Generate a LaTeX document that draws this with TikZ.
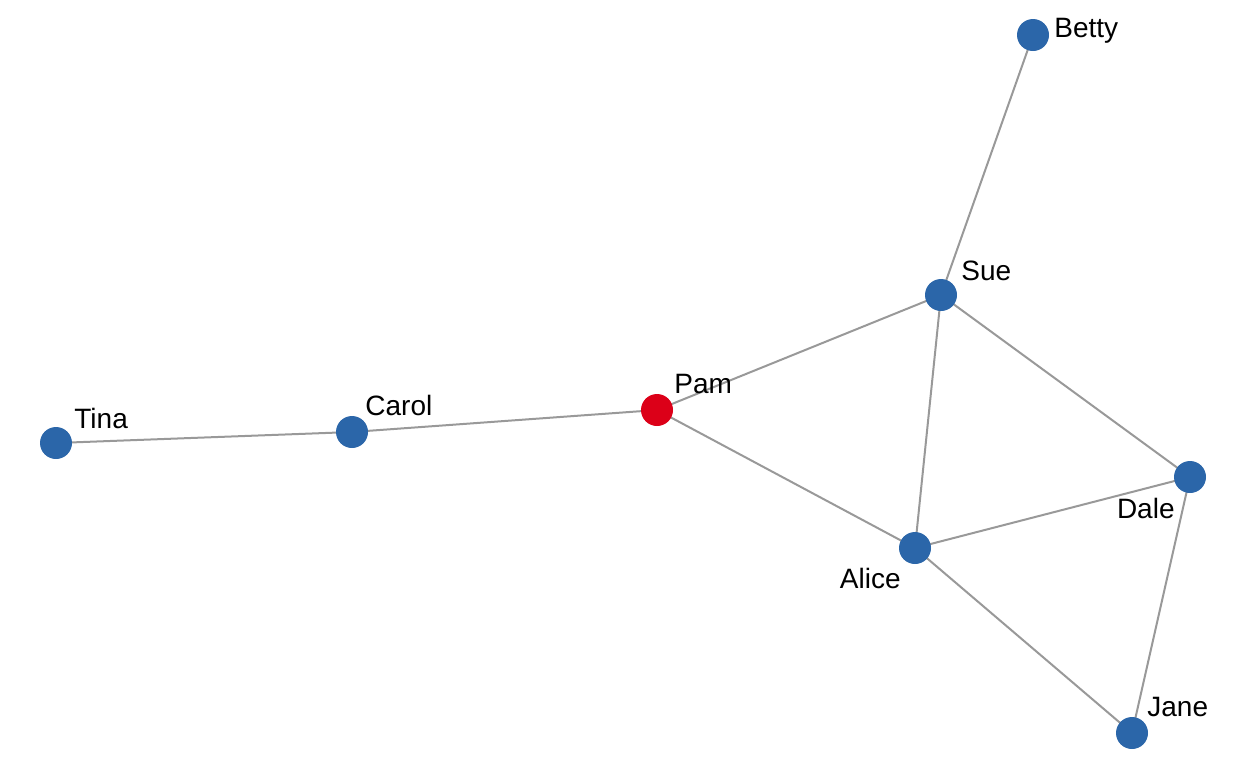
\documentclass[tikz,border=0pt]{standalone}
\usepackage{fontspec}
\setmainfont{Liberation Sans}
\usetikzlibrary{backgrounds}
\definecolor{nodeblue}{HTML}{2B66A9}
\definecolor{nodered}{HTML}{DC0018}
\definecolor{edgegray}{HTML}{999999}
\begin{document}
\begin{tikzpicture}[x=0.5pt,y=-0.5pt,
  vert/.style={circle,fill=nodeblue,minimum size=16pt,inner sep=0pt},
  hub/.style={circle,fill=nodered,minimum size=16pt,inner sep=0pt},
  lab/.style={font=\fontsize{14}{16}\selectfont,inner sep=0pt,text=black},
  edge/.style={draw=edgegray,line width=1pt}]
\useasboundingbox (0,0) rectangle (1248,768);
\node[vert] (Betty) at (1033,35) {};
\node[vert] (Sue) at (941,295) {};
\node[hub] (Pam) at (657,410) {};
\node[vert] (Carol) at (352,432) {};
\node[vert] (Tina) at (56,443) {};
\node[vert] (Dale) at (1190,477) {};
\node[vert] (Alice) at (915,548) {};
\node[vert] (Jane) at (1132,733) {};
\begin{scope}[on background layer]
\foreach \a/\b in {Betty/Sue,Sue/Pam,Sue/Alice,Sue/Dale,Pam/Carol,Pam/Alice,Carol/Tina,Alice/Dale,Alice/Jane,Dale/Jane}
  \draw[edge] (\a.center) -- (\b.center);
\end{scope}
\node[lab,anchor=base west] (lBetty) at (1054,37) {Betty};
\node[lab,anchor=base west] (lSue) at (961,280) {Sue};
\node[lab,anchor=base west] (lPam) at (674,393) {Pam};
\node[lab,anchor=base west] (lCarol) at (365,415) {Carol};
\node[lab,anchor=base west] (lTina) at (74,428) {Tina};
\node[lab,anchor=base east] (lDale) at (1175,518) {Dale};
\node[lab,anchor=base east] (lAlice) at (901,588) {Alice};
\node[lab,anchor=base west] (lJane) at (1147,716) {Jane};
\end{tikzpicture}
\end{document}
